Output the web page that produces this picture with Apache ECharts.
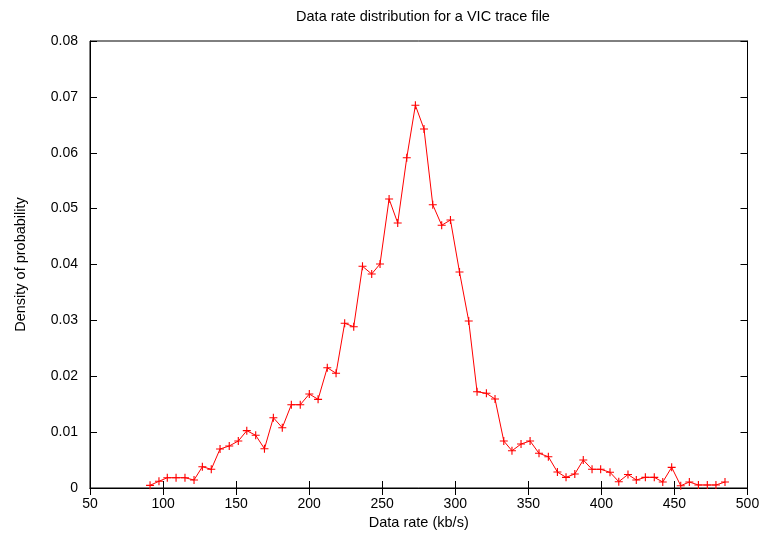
<!DOCTYPE html>
<html>
<head>
<meta charset="utf-8">
<script src="https://cdn.jsdelivr.net/npm/echarts@6/dist/echarts.min.js"></script>
<style>html,body{margin:0;padding:0;background:#fff;}#c{width:764px;height:533px;}</style>
</head>
<body>
<div id="c"></div>
<script>
var titleText = 'Data rate distribution for a VIC trace file';
var xName = 'Data rate (kb/s)';
var yName = 'Density of probability';
var xTicks = [50, 100, 150, 200, 250, 300, 350, 400, 450, 500];
var yTicks = [0, 0.01, 0.02, 0.03, 0.04, 0.05, 0.06, 0.07, 0.08];

var rates = [91.1, 97.2, 102.9, 108.9, 115.0, 121.2, 126.9, 133.0, 139.0, 145.3,
  151.5, 157.3, 163.4, 169.4, 175.5, 181.6, 187.8, 193.9, 200.1, 206.1,
  212.4, 218.4, 224.3, 230.5, 236.5, 242.8, 248.5, 254.7, 260.6, 266.8,
  272.7, 278.6, 284.6, 290.7, 296.7, 302.9, 309.2, 314.9, 321.3, 327.2,
  333.2, 338.8, 345.0, 351.2, 357.3, 363.7, 369.9, 375.8, 381.8, 387.6,
  393.6, 399.5, 405.9, 411.9, 418.2, 423.9, 430.1, 436.2, 442.0, 448.1,
  454.3, 460.2, 466.4, 472.5, 478.4, 484.6];
var density = [0.00048, 0.0012, 0.00184, 0.00184, 0.00184, 0.00143, 0.00381, 0.00335, 0.00698, 0.00752,
  0.00841, 0.01026, 0.00943, 0.00703, 0.01258, 0.01079, 0.01491, 0.01491, 0.01682, 0.01587,
  0.02153, 0.02053, 0.02948, 0.02887, 0.03968, 0.0383, 0.04009, 0.05172, 0.04743, 0.05911,
  0.06849, 0.06425, 0.0507, 0.04702, 0.04796, 0.03866, 0.02989, 0.01723, 0.01695, 0.01593,
  0.00841, 0.00666, 0.00787, 0.00841, 0.00621, 0.0056, 0.00286, 0.00191, 0.00251, 0.00501,
  0.00335, 0.00335, 0.00281, 0.00113, 0.00242, 0.00143, 0.00191, 0.00191, 0.00107, 0.0037,
  0.00041, 0.00107, 0.00054, 0.00054, 0.00054, 0.00107];

var pts = rates.map(function (r, i) { return [r, density[i]]; });
var FONT = 'Liberation Sans';
var plus = 'path://M4.3,0h1.4v4.3h4.3v1.4h-4.3v4.3h-1.4v-4.3h-4.3v-1.4h4.3z';

var chart = echarts.init(document.getElementById('c'), null, {renderer: 'canvas'});
var axisBase = {
  axisLine: {show: true, lineStyle: {color: '#000', width: 1}},
  axisTick: {show: true, inside: true, length: 7, lineStyle: {color: '#000', width: 1}},
  splitLine: {show: false}
};
chart.setOption({
  animation: false,
  backgroundColor: '#fff',
  title: {
    text: titleText, left: 418, top: 4, textAlign: 'center',
    textStyle: {fontFamily: FONT, fontSize: 14.5, fontWeight: 'normal', color: '#000'}
  },
  grid: {left: 90, right: 16.5, top: 41, bottom: 45, show: true, borderColor: '#000', borderWidth: 1,
    containLabel: false, outerBoundsMode: 'none'},
  xAxis: [
    Object.assign({}, axisBase, {
      type: 'value', min: xTicks[0], max: xTicks[xTicks.length - 1], interval: 50, position: 'bottom',
      name: xName, nameLocation: 'middle', nameGap: 27,
      nameTextStyle: {fontFamily: FONT, fontSize: 14.5, color: '#000'},
      axisLabel: {fontFamily: FONT, fontSize: 14, color: '#000', margin: 9}
    }),
    Object.assign({}, axisBase, {
      type: 'value', min: xTicks[0], max: xTicks[xTicks.length - 1], interval: 50, position: 'top',
      axisLabel: {show: false}
    })
  ],
  yAxis: [
    Object.assign({}, axisBase, {
      type: 'value', min: yTicks[0], max: yTicks[yTicks.length - 1], interval: 0.01, position: 'left',
      name: yName, nameLocation: 'middle', nameGap: 62,
      nameTextStyle: {fontFamily: FONT, fontSize: 14.5, color: '#000'},
      axisLabel: {fontFamily: FONT, fontSize: 14, color: '#000', margin: 12,
        formatter: function (v) { return v === 0 ? '0' : v.toFixed(2); }}
    }),
    Object.assign({}, axisBase, {
      type: 'value', min: yTicks[0], max: yTicks[yTicks.length - 1], interval: 0.01, position: 'right',
      axisLabel: {show: false}
    })
  ],
  series: [{
    type: 'line',
    data: pts,
    xAxisIndex: 0, yAxisIndex: 0,
    lineStyle: {color: '#ff0000', width: 1},
    itemStyle: {color: '#ff0000'},
    symbol: plus, symbolSize: 8, showSymbol: true,
    z: 3
  }]
});
</script>
</body>
</html>
